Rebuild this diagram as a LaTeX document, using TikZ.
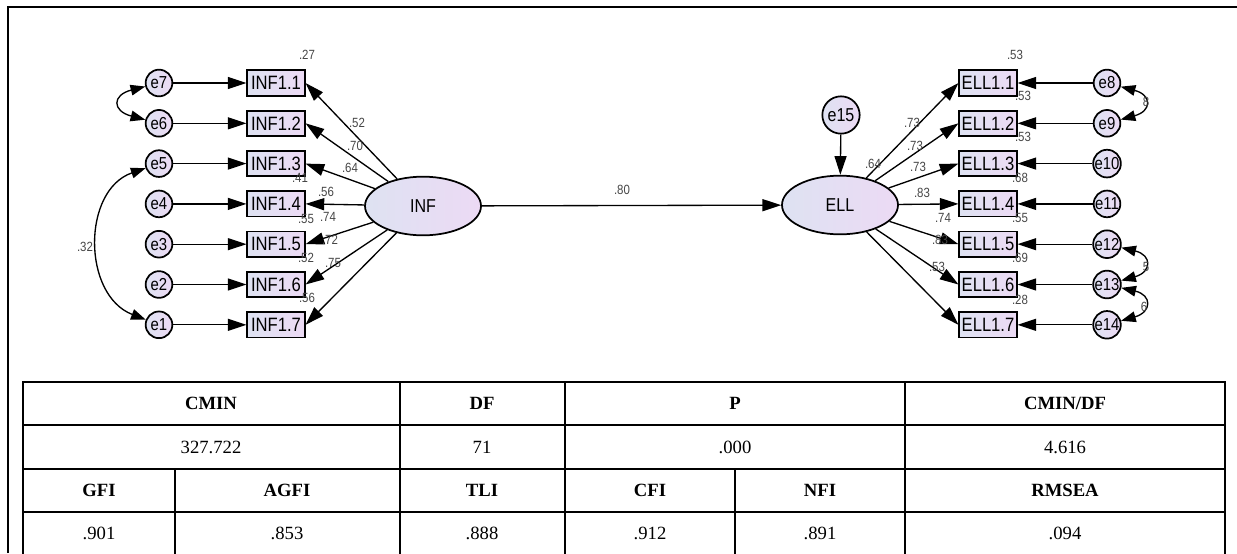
\documentclass[tikz,border=0pt]{standalone}
\usepackage{fontspec}
\setmainfont{Liberation Serif}
\newfontfamily\amosfont[FakeStretch=0.86]{Liberation Sans}
\usetikzlibrary{arrows.meta,shapes.geometric}
\definecolor{nodefill}{RGB}{236,218,244}
\definecolor{nodeleft}{RGB}{222,226,242}
\definecolor{lblgray}{RGB}{70,70,70}

\begin{document}
\begin{tikzpicture}[x=0.75pt,y=-0.75pt,
  err/.style={circle,draw,line width=1.3pt,left color=nodeleft,right color=nodefill,
    minimum size=20pt,inner sep=0pt,font=\amosfont\fontsize{13}{13}\selectfont},
  obs/.style={rectangle,draw,line width=1.3pt,left color=nodeleft,right color=nodefill,
    minimum width=43pt,minimum height=19pt,inner sep=0pt,font=\amosfont\fontsize{14.5}{14.5}\selectfont},
  lat/.style={ellipse,draw,line width=1.3pt,left color=nodeleft,right color=nodefill,
    minimum width=87pt,minimum height=44pt,inner sep=0pt,font=\amosfont\fontsize{14}{14}\selectfont},
  reg/.style={line width=1pt,-{Triangle[length=14pt,width=9pt]}},
  cov/.style={line width=1pt,{Triangle[length=11pt,width=8pt]}-{Triangle[length=11pt,width=8pt]}},
  lbl/.style={inner sep=0pt,text=lblgray,font=\amosfont\fontsize{10}{10}\selectfont},
  hdr/.style={font=\bfseries\fontsize{14}{16}\selectfont},
  cell/.style={font=\fontsize{14}{16}\selectfont}]
  \useasboundingbox (0,0) rectangle (1237,553);
  \draw[line width=1.6pt] (8,553) -- (8,7) -- (1237,7);

  \foreach \i in {1,...,7}{
    \pgfmathsetmacro\yy{83+40.3*(\i-1)}
    \pgfmathtruncatemacro\k{8-\i}
    \pgfmathtruncatemacro\r{7+\i}
    \node[obs] (inf\i) at (276,\yy) {INF1.\i};
    \node[err] (e\k) at (159,\yy) {e\k};
    \node[obs] (ell\i) at (988,\yy) {ELL1.\i};
    \node[err] (e\r) at (1107,\yy) {e\r};
  }
  \node[lat] (INF) at (423,206) {INF};
  \node[lat] (ELL) at (840,205) {ELL};
  \node[err,minimum size=28pt,font=\amosfont\fontsize{14}{14}\selectfont] (e15) at (841,115) {e15};

  \foreach \i in {1,...,7}{
    \pgfmathtruncatemacro\k{8-\i}
    \pgfmathtruncatemacro\r{7+\i}
    \draw[reg] (e\k) -- (inf\i);
    \draw[reg] (INF) -- (inf\i.east);
    \draw[reg] (ELL) -- (ell\i.west);
    \draw[reg] (e\r) -- (ell\i);
  }
  \draw[reg] (INF) -- (ELL);
  \draw[reg] (e15) -- (ELL);

  \draw[cov] (e5) .. controls (82,190) and (82,295) .. (e1);
  \draw[cov] (e7) .. controls (112,95) and (112,111) .. (e6);
  \draw[cov] (e8) .. controls (1152,95) and (1152,111) .. (e9);
  \draw[cov] (e12) .. controls (1152,255) and (1152,272) .. (e13);
  \draw[cov] (e13) .. controls (1152,295) and (1152,312) .. (e14);

  \foreach \n/\x/\y/\t in {a1/307/55/.27, a2/300/178/.41, a3/306/219/.55, a4/306/258/.52,
      a5/307/298/.56, b1/357/123/.52, b2/355/146/.70, b3/350/168/.64, b4/326/192/.56,
      b5/328/217/.74, b6/330/240/.72, b7/333/263/.75, c1/85/247/.32, c2/622/190/.80,
      c3/873/164/.64, d1/912/123/.73, d2/915/146/.73, d3/918/167/.73, d4/922/193/.83,
      d5/943/218/.74, d6/940/240/.83, d7/937/267/.53, f1/1015/55/.53, f2/1023/96/.53,
      f3/1023/137/.53, f4/1020/178/.68, f5/1020/218/.55, f6/1020/258/.69, f7/1020/300/.28,
      g1/1146/102/8, g2/1146/267/5, g3/1144/307/6}
    \node[lbl] (\n) at (\x,\y) {\t};

  \draw[line width=1.3pt] (23,382) rectangle (1225,560);
  \foreach \y in {425,469,512}
    \draw[line width=1.3pt] (23,\y) -- (1225,\y);
  \foreach \x in {400,565,905}
    \draw[line width=1.3pt] (\x,382) -- (\x,560);
  \foreach \x in {175,735}
    \draw[line width=1.3pt] (\x,469) -- (\x,560);

  \foreach \x/\t [count=\n] in {211/CMIN, 482/DF, 735/P, 1065/{CMIN/DF}}
    \node[hdr] (hd\n) at (\x,403) {\t};
  \foreach \x/\t [count=\n] in {211/327.722, 482/71, 735/.000, 1065/4.616}
    \node[cell] (va\n) at (\x,447) {\t};
  \foreach \x/\t [count=\n] in {99/GFI, 287/AGFI, 482/TLI, 650/CFI, 820/NFI, 1065/RMSEA}
    \node[hdr] (hf\n) at (\x,490) {\t};
  \foreach \x/\t [count=\n] in {99/.901, 287/.853, 482/.888, 650/.912, 820/.891, 1065/.094}
    \node[cell] (vf\n) at (\x,533) {\t};
\end{tikzpicture}
\end{document}
